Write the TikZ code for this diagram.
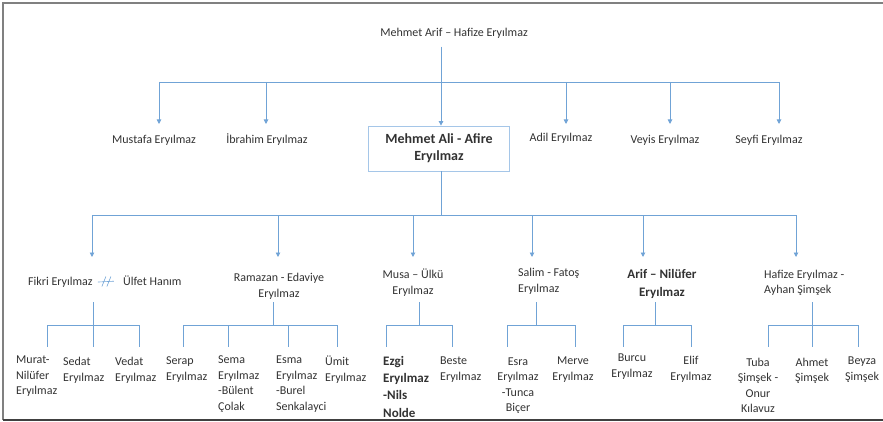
\documentclass[tikz,border=0pt]{standalone}
\usepackage{fontspec}
\setmainfont{Carlito}
\usetikzlibrary{arrows.meta,positioning,calc}
\definecolor{linkblue}{RGB}{112,163,214}
\definecolor{boxblue}{RGB}{165,198,232}
\definecolor{txtgray}{RGB}{50,50,50}

\tikzset{
  person/.style={inner sep=0pt, text=txtgray, font=\fontsize{12}{15.5}\selectfont, align=left, anchor=north west},
  personc/.style={person, align=center, anchor=north},
  strong/.style={font=\fontsize{13}{17.3}\selectfont\bfseries},
  link/.style={draw=linkblue, line width=0.9pt},
  arrowlink/.style={link, -{Triangle[width=4.5pt,length=4.5pt]}},
}

\begin{document}
\begin{tikzpicture}[x=1pt,y=-1pt]
  \useasboundingbox (0,0) rectangle (883,422);
  \draw[gray, line width=2pt] (883,3) -- (3,3) -- (3,420);
  \draw[black!75, line width=2pt] (3,420) -- (883,420);

  \node[person, anchor=base] (top) at (454,36.5) {Mehmet Arif – Hafize Eryılmaz};

  % children of Mehmet Arif
  \node[person, anchor=base] (mustafa) at (154,143.5) {Mustafa Eryılmaz};
  \node[person, anchor=base] (ibrahim) at (267,143.5) {İbrahim Eryılmaz};
  \node[draw=boxblue, line width=0.8pt, text=txtgray, align=center, font=\fontsize{14}{17}\selectfont\bfseries, minimum width=141pt, minimum height=45pt, inner sep=0pt] (mali) at (439,148.5) {Mehmet Ali - Afire\\Eryılmaz};
  \node[person, anchor=base] (adil) at (561,141.5) {Adil Eryılmaz};
  \node[person, anchor=base] (veyis) at (665,143.5) {Veyis Eryılmaz};
  \node[person, anchor=base] (seyfi) at (769,143.5) {Seyfi Eryılmaz};

  \coordinate (bar1) at (441,82);
  \draw[link] (top.south -| bar1) ++(0,8) -- (bar1);
  \draw[link] (159,82) -- (779,82);
  \foreach \x in {159,266,566,670,779}
    \draw[arrowlink] (\x,82) -- (\x,124);
  \draw[arrowlink] (bar1) -- (bar1 |- mali.north);

  % children of Mehmet Ali
  \node[person, anchor=base west] (fikri) at (28,285.5) {Fikri Eryılmaz};
  \node[person, right=30pt of fikri.base east, anchor=base west] (ulfet) {Ülfet Hanım};
  \node[personc] (ramazan) at (279,273) {Ramazan - Edaviye\\Eryılmaz};
  \node[personc] (musa) at (413,269) {Musa – Ülkü\\Eryılmaz};
  \node[person] (salim) at (518,268) {Salim - Fatoş\\Eryılmaz};
  \node[personc, strong] (arif) at (662,269.5) {Arif – Nilüfer\\Eryılmaz};
  \node[person] (hafize) at (764,269.5) {Hafize Eryılmaz -\\Ayhan Şimşek};

  % divorce mark
  \coordinate (split) at ($(fikri.east)!0.5!(ulfet.west)$);
  \draw[link, line width=0.6pt, shorten <=5pt, shorten >=9pt] (fikri.east) -- (ulfet.west);
  \draw[link, line width=0.6pt] ([xshift=-6pt,yshift=-5pt]split) -- ([xshift=-2pt,yshift=5pt]split);
  \draw[link, line width=0.6pt] ([xshift=-1pt,yshift=-5pt]split) -- ([xshift=3pt,yshift=5pt]split);

  \coordinate (bar2) at (441,215);
  \draw[link] (mali.south -| bar2) -- (bar2);
  \draw[link] (92,215) -- (796,215);
  \foreach \x in {92,278,413,532,643,796}
    \draw[arrowlink] (\x,215) -- (\x,257);

  % grandchildren
  \node[person] (murat) at (16,356) {Murat-\\Nilüfer\\Eryılmaz};
  \node[person] (sedat) at (63,357) {Sedat\\Eryılmaz};
  \node[person] (vedat) at (115,357) {Vedat\\Eryılmaz};
  \node[person] (serap) at (166,357) {Serap\\Eryılmaz};
  \node[person] (sema) at (218,356) {Sema\\Eryılmaz\\-Bülent\\Çolak};
  \node[person] (esma) at (276,356) {Esma\\Eryılmaz\\-Burel\\Senkalayci};
  \node[person] (umit) at (325,356) {Ümit\\Eryılmaz};
  \node[person, strong] (ezgi) at (383,356) {Ezgi\\Eryılmaz\\-Nils\\Nolde};
  \node[person] (beste) at (440,357) {Beste\\Eryılmaz};
  \node[personc] (esra) at (518,357.5) {Esra\\Eryılmaz\\-Tunca\\Biçer};
  \node[personc] (merve) at (573,357) {Merve\\Eryılmaz};
  \node[personc] (burcu) at (632,354) {Burcu\\Eryılmaz};
  \node[personc] (elif) at (691,356) {Elif\\Eryılmaz};
  \node[personc] (tuba) at (758,357.5) {Tuba\\Şimşek -\\Onur\\Kılavuz};
  \node[personc] (ahmet) at (812,357.5) {Ahmet\\Şimşek};
  \node[personc] (beyza) at (862,357) {Beyza\\Şimşek};

  \foreach \s/\a/\b in {93/47/139, 273/183/337, 419/386/452, 536/507/575, 655/623/691, 812/768/858}{
    \draw[link] (\s,302) -- (\s,325);
    \draw[link] (\a,325) -- (\b,325);
  }
  \foreach \x in {47,93,139,183,228,288,337,386,452,507,575,623,691,768,812,858}
    \draw[link] (\x,325) -- (\x,347);
\end{tikzpicture}
\end{document}
